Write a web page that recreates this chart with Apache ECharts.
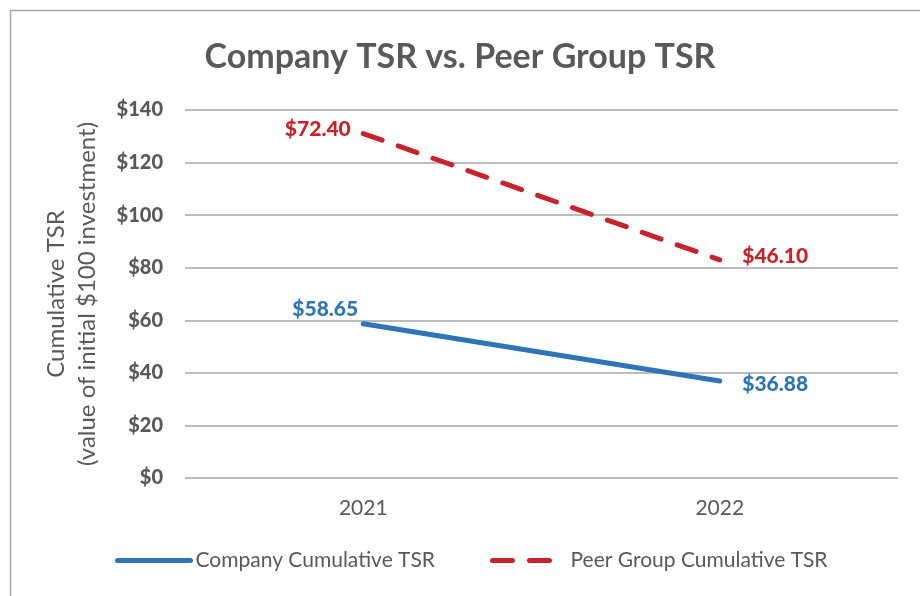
<!DOCTYPE html>
<html>
<head>
<meta charset="utf-8">
<script src="https://cdn.jsdelivr.net/npm/echarts@6/dist/echarts.min.js"></script>
<style>
html,body{margin:0;padding:0;background:#fff;}
#main{width:920px;height:596px;}
</style>
</head>
<body>
<div id="main"></div>
<script>
const categories = ['2021', '2022'];
const companyTSR = [58.65, 36.88];
const peerTSR = [72.40, 46.10];
const yTicks = [0, 20, 40, 60, 80, 100, 120, 140];
const seriesNames = ['Company Cumulative TSR', 'Peer Group Cumulative TSR'];

const FONT = 'Lato';
const GRAY = '#595959';
const BLUE = '#2E75B6';
const RED = '#C8232C';
const HEAVY = 900;

const chart = echarts.init(document.getElementById('main'));
chart.setOption({
  animation: false,
  textStyle: { fontFamily: FONT },
  title: {
    text: 'Company TSR vs. Peer Group TSR',
    left: 'center',
    top: 35,
    textStyle: { fontFamily: FONT, fontSize: 34, fontWeight: 'bold', color: GRAY }
  },
  graphic: [{
    type: 'rect',
    left: 8, top: 8,
    shape: { x: 0, y: 0, width: 940, height: 620 },
    style: { fill: 'none', stroke: '#A6A6A6', lineWidth: 1.5 },
    silent: true
  }],
  legend: {
    bottom: 20,
    left: 110,
    itemWidth: 73,
    itemHeight: 10,
    itemGap: 55,
    itemStyle: { opacity: 0 },
    lineStyle: { width: 5 },
    textStyle: { fontFamily: FONT, fontSize: 21, color: GRAY },
    data: seriesNames
  },
  grid: { left: 185, right: 22, top: 110, bottom: 118 },
  xAxis: {
    type: 'category',
    data: categories,
    boundaryGap: true,
    axisLine: { show: false },
    axisTick: { show: false },
    axisLabel: { fontFamily: FONT, fontSize: 21, color: GRAY, margin: 20 }
  },
  yAxis: {
    type: 'value',
    min: yTicks[0],
    max: yTicks[yTicks.length - 1],
    interval: 20,
    name: 'Cumulative TSR\n(value of initial $100 investment)',
    nameLocation: 'middle',
    nameRotate: 90,
    nameGap: 82,
    nameTextStyle: { fontFamily: FONT, fontSize: 24, color: GRAY, lineHeight: 31 },
    axisLine: { show: false },
    axisTick: { show: false },
    splitLine: { lineStyle: { color: '#A6A6A6', width: 1.5 } },
    axisLabel: {
      fontFamily: FONT, fontSize: 20, fontWeight: HEAVY, color: GRAY, margin: 22,
      formatter: v => '$' + v
    }
  },
  series: [
    {
      name: seriesNames[0],
      type: 'line',
      stack: 'total',
      symbol: 'circle',
      symbolSize: 1,
      showSymbol: true,
      lineStyle: { color: BLUE, width: 5, cap: 'round' },
      itemStyle: { color: BLUE },
      label: {
        show: true,
        fontFamily: FONT, fontSize: 21, fontWeight: HEAVY, color: BLUE,
        formatter: p => '$' + p.value.toFixed(2)
      },
      data: [
        { value: companyTSR[0], label: { position: 'top', distance: 4, offset: [-38, 0] } },
        { value: companyTSR[1], label: { position: 'right', distance: 22, offset: [0, 3] } }
      ]
    },
    {
      name: seriesNames[1],
      type: 'line',
      stack: 'total',
      symbol: 'circle',
      symbolSize: 1,
      showSymbol: true,
      lineStyle: { color: RED, width: 5, type: [20, 17], cap: 'round' },
      itemStyle: { color: RED },
      label: {
        show: true,
        fontFamily: FONT, fontSize: 21, fontWeight: HEAVY, color: RED,
        formatter: p => '$' + p.value.toFixed(2)
      },
      data: [
        { value: peerTSR[0], label: { position: 'left', distance: 12, offset: [0, -4] } },
        { value: peerTSR[1], label: { position: 'right', distance: 22, offset: [0, -4] } }
      ]
    }
  ]
});
</script>
</body>
</html>
